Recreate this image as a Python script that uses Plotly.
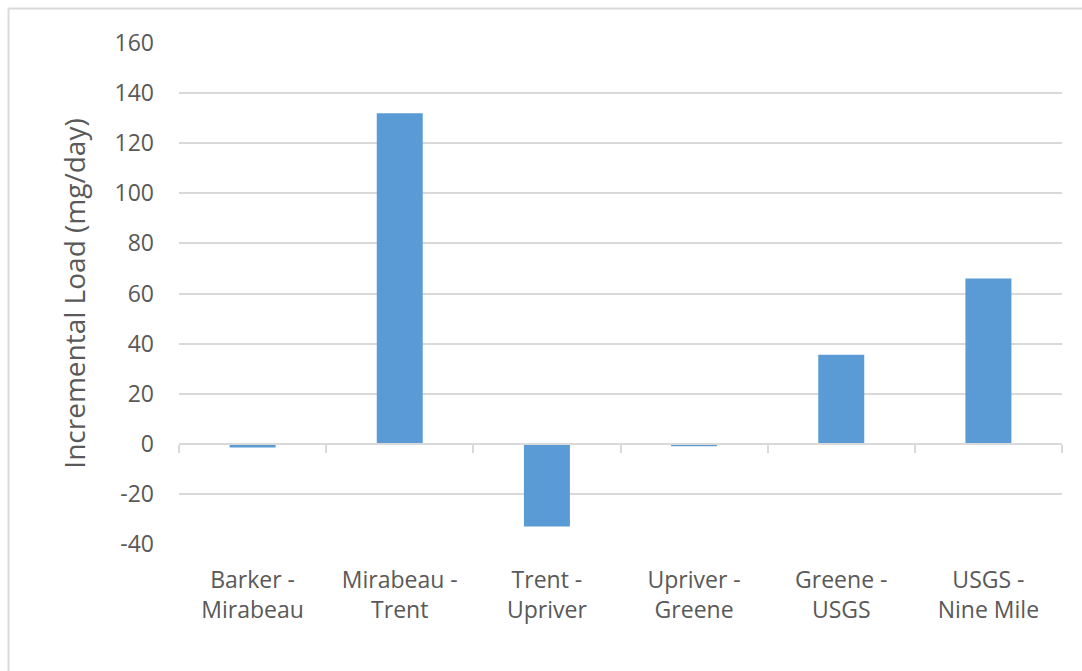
import plotly.graph_objects as go

categories = ["Barker -<br>Mirabeau", "Mirabeau -<br>Trent", "Trent -<br>Upriver",
              "Upriver -<br>Greene", "Greene -<br>USGS", "USGS -<br>Nine Mile"]
values = [-1.5, 132, -33, -1.0, 35.5, 66]
y_ticks = [-40, -20, 0, 20, 40, 60, 80, 100, 120, 140, 160]
y_tick_labels = ["-40", "-20", "0", "20", "40", "60", "80", "100", "120", "140", "160"]
y_title = "Incremental Load (mg/day)"

W, H = 1082, 671
L, R, T, B = 179, 20, 43, 127
pw, ph = W - L - R, H - T - B
ymin, ymax = -40, 160

FONT = "Open Sans, Noto Sans, sans-serif"
TXT = "#595959"
GRID = "#d9d9d9"

fig = go.Figure()
fig.add_trace(go.Bar(x=categories, y=values, marker_color="#5B9BD5",
                     marker_line_width=0, hoverinfo="x+y"))
fig.add_trace(go.Scatter(x=categories, y=values, xaxis="x2", mode="markers",
                         marker=dict(opacity=0), hoverinfo="skip", showlegend=False))

def px_x(p):
    return (p - L) / pw

def px_y(p):
    return 1 - (p - T) / ph

fig.update_layout(
    width=W, height=H,
    margin=dict(l=L, r=R, t=T, b=B),
    paper_bgcolor="white", plot_bgcolor="white",
    showlegend=False,
    bargap=0.6875,
    font=dict(family=FONT, color=TXT),
    xaxis=dict(type="category", range=[-0.5, len(categories) - 0.5],
               showgrid=False, showline=False, ticks="", zeroline=False,
               tickfont=dict(size=23, color=TXT, family=FONT),
               ticklabelstandoff=20),
    xaxis2=dict(type="category", overlaying="x", anchor="free",
                position=(0 - ymin) / (ymax - ymin),
                range=[-0.5, len(categories) - 0.5],
                showline=True, linecolor=GRID, linewidth=2,
                ticks="outside", tickson="boundaries", ticklen=8,
                tickcolor=GRID, tickwidth=2,
                showticklabels=False, showgrid=False, zeroline=False),
    yaxis=dict(range=[ymin, ymax], tickvals=y_ticks, ticktext=y_tick_labels,
               showgrid=True, gridcolor=GRID, gridwidth=2,
               zeroline=False, showline=False, ticks="",
               tickfont=dict(size=23, color=TXT, family=FONT),
               ticklabelstandoff=24,
               title=dict(text=y_title, font=dict(size=28, color=TXT, family=FONT),
                          standoff=20)),
    shapes=[
        dict(type="line", xref="paper", yref="paper",
             x0=px_x(8.5), x1=px_x(W + 5), y0=px_y(8.5), y1=px_y(8.5),
             line=dict(color=GRID, width=2)),
        dict(type="line", xref="paper", yref="paper",
             x0=px_x(8.5), x1=px_x(8.5), y0=px_y(8.5), y1=px_y(H + 5),
             line=dict(color=GRID, width=2)),
    ],
)

fig.write_html("out.html",
               config={"displayModeBar": False},
               post_script="document.body.style.margin='0';document.body.style.overflow='hidden';")
